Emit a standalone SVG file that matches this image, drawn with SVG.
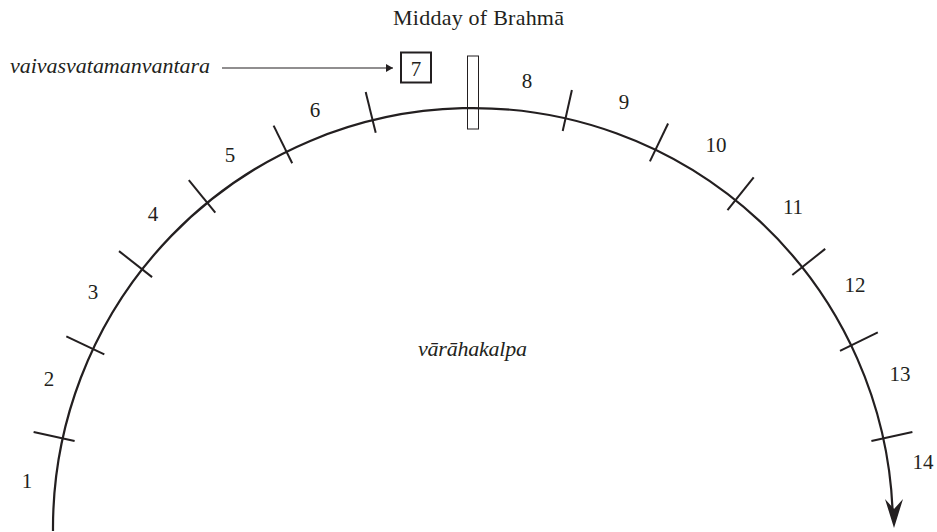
<svg xmlns="http://www.w3.org/2000/svg" width="937" height="532" viewBox="0 0 937 532">
<defs>
<style>
text{font-family:"Liberation Serif","DejaVu Serif",serif;font-size:21px;fill:#231f20}
.big{font-size:22px}
.it{font-style:italic}
.num{text-anchor:middle}
.arc{fill:none;stroke:#231f20;stroke-width:2.2}
.tick{stroke:#231f20;stroke-width:2}
.thin{fill:none;stroke:#231f20;stroke-width:1.2}
</style>
<marker id="small" markerWidth="8" markerHeight="8" refX="7" refY="4" orient="auto" markerUnits="userSpaceOnUse">
<path d="M0,0 L7,4 L0,8 Z" fill="#231f20"/>
</marker>
</defs>
<rect width="937" height="532" fill="#fff"/>

<g id="connectors">
<path class="arc" d="M53,531 A420,420 0 0 1 892.6,510"/>
<path d="M894,528 L885,499 L894,509 L903,499 Z" fill="#231f20"/>
<line class="thin" x1="222" y1="68" x2="393" y2="68" marker-end="url(#small)"/>
</g>

<g id="ticks">
<line class="tick" x1="74.6" y1="441.1" x2="33.6" y2="432"/>
<line class="tick" x1="104.3" y1="354.3" x2="66.3" y2="336.3"/>
<line class="tick" x1="152.1" y1="277.1" x2="119" y2="251.1"/>
<line class="tick" x1="215.3" y1="212.7" x2="188.8" y2="180.1"/>
<line class="tick" x1="292.2" y1="163.2" x2="273.6" y2="125.6"/>
<line class="tick" x1="375.7" y1="132.8" x2="365.7" y2="92"/>
<line class="tick" x1="562.7" y1="131" x2="571.9" y2="90"/>
<line class="tick" x1="649.9" y1="161.4" x2="668.1" y2="123.5"/>
<line class="tick" x1="727.5" y1="210.1" x2="753.7" y2="177.3"/>
<line class="tick" x1="792.3" y1="275" x2="825.2" y2="248.9"/>
<line class="tick" x1="840" y1="350.8" x2="877.8" y2="332.4"/>
<line class="tick" x1="871.4" y1="441" x2="912.4" y2="431.9"/>
</g>

<g id="midday">
<rect x="467.5" y="56" width="11" height="73" fill="none" stroke="#231f20" stroke-width="1"/>
<text class="big" x="478.5" y="25" text-anchor="middle" textLength="171">Midday of Brahmā</text>
</g>

<g id="vaivasvatamanvantara">
<text class="it big" x="10" y="73" textLength="200">vaivasvatamanvantara</text>
</g>

<g id="m7">
<rect x="401" y="52.5" width="30" height="30" fill="none" stroke="#231f20" stroke-width="2"/>
<text class="num" x="416" y="76">7</text>
</g>

<g id="varahakalpa">
<text class="it big" x="418" y="356" textLength="109">vārāhakalpa</text>
</g>

<g id="m1"><text class="num" x="27" y="488">1</text></g>
<g id="m2"><text class="num" x="49" y="385.5">2</text></g>
<g id="m3"><text class="num" x="93" y="299">3</text></g>
<g id="m4"><text class="num" x="153" y="220.5">4</text></g>
<g id="m5"><text class="num" x="230" y="161.5">5</text></g>
<g id="m6"><text class="num" x="315" y="117">6</text></g>
<g id="m8"><text class="num" x="527" y="88">8</text></g>
<g id="m9"><text class="num" x="624" y="109">9</text></g>
<g id="m10"><text class="num" x="716" y="151.5">10</text></g>
<g id="m11"><text class="num" x="793" y="214">11</text></g>
<g id="m12"><text class="num" x="855" y="291.5">12</text></g>
<g id="m13"><text class="num" x="900" y="380.5">13</text></g>
<g id="m14"><text class="num" x="923" y="469">14</text></g>
</svg>
